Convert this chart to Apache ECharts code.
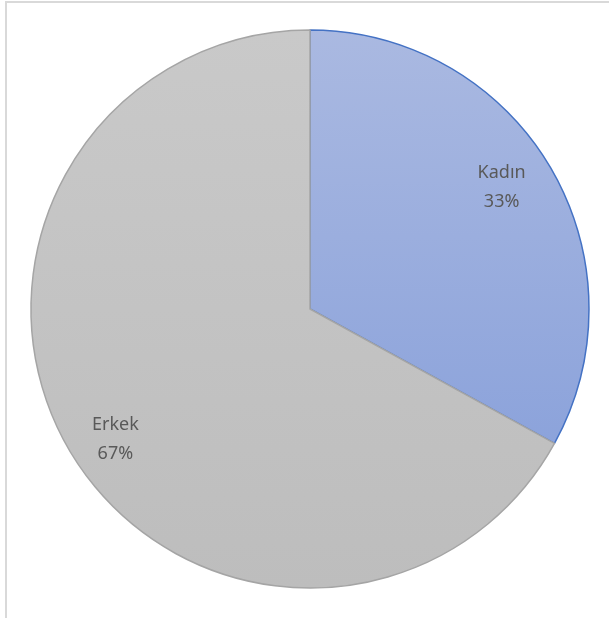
<!DOCTYPE html>
<html>
<head>
<meta charset="utf-8">
<script src="https://cdn.jsdelivr.net/npm/echarts@6/dist/echarts.min.js"></script>
<style>
  html, body { margin: 0; padding: 0; background: #fff; }
  #frame { position: absolute; left: 5px; top: 1px; width: 700px; height: 700px;
           border-left: 2px solid #d9d9d9; border-top: 2px solid #d9d9d9; }
  #chart { position: absolute; left: 0; top: 0; width: 609px; height: 618px; }
</style>
</head>
<body>
<div id="frame"></div>
<div id="chart"></div>
<script>
// pie data
var categories = ['Kadın', 'Erkek'];
var values = [33, 67];

var fills = [
    new echarts.graphic.LinearGradient(0, 0, 0, 1, [
        { offset: 0, color: '#aab9e1' }, { offset: 1, color: '#8ca3db' }
    ]),
    new echarts.graphic.LinearGradient(0, 0, 0, 1, [
        { offset: 0, color: '#c9c9c9' }, { offset: 1, color: '#bdbdbd' }
    ])
];
var borders = ['#4472c4', '#a5a5a5'];
var labelShift = [[-4, 6], [1, 3]];

var pieData = categories.map(function (name, i) {
    return {
        name: name,
        value: values[i],
        itemStyle: { color: fills[i], borderColor: borders[i], borderWidth: 1.5 }
    };
});

var labelData = categories.map(function (name, i) {
    return { name: name, value: values[i], label: { offset: labelShift[i] } };
});

var myChart = echarts.init(document.getElementById('chart'));
var option = {
    animation: false,
    series: [{
        type: 'pie',
        center: [310, 309],
        radius: [0, 279],
        startAngle: 90,
        clockwise: true,
        silent: true,
        label: { show: false },
        labelLine: { show: false },
        data: pieData
    }, {
        // transparent ring only used to place the labels
        type: 'pie',
        center: [310, 309],
        radius: [182, 279],
        startAngle: 92.5,
        clockwise: true,
        silent: true,
        itemStyle: { color: 'rgba(0,0,0,0)', borderWidth: 0 },
        label: {
            show: true,
            position: 'inside',
            formatter: '{b}\n{d}%',
            fontFamily: 'Noto Sans',
            fontSize: 18,
            lineHeight: 29,
            color: '#595959'
        },
        labelLine: { show: false },
        data: labelData
    }]
};
myChart.setOption(option);
</script>
</body>
</html>
